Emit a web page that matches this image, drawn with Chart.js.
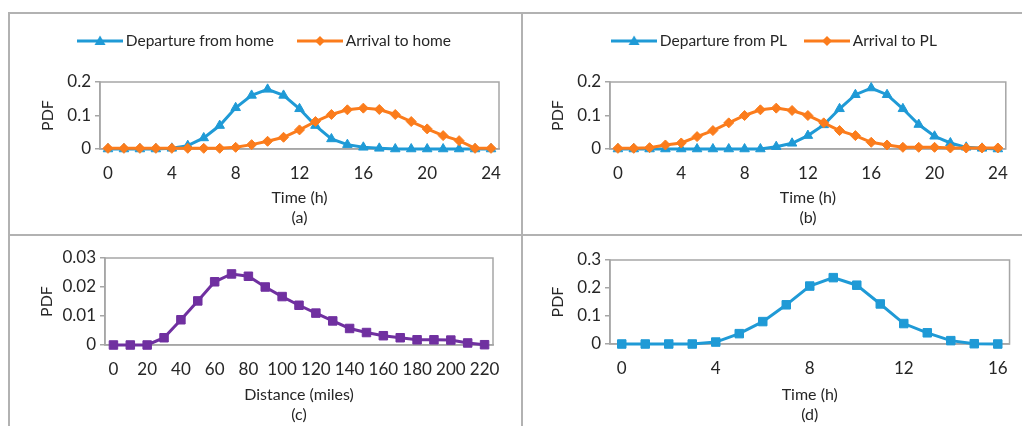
<!DOCTYPE html>
<html>
<head>
<meta charset="utf-8">
<script src="https://cdn.jsdelivr.net/npm/chart.js@4.4.1/dist/chart.umd.min.js"></script>
<style>
  html, body { margin: 0; padding: 0; background: #fff; }
  body { width: 1022px; height: 426px; position: relative; overflow: hidden; }
  .box { position: absolute; }
  .box canvas { display: block; }
  .frame { position: absolute; background: #b2b2b2; z-index: 2; }
</style>
</head>
<body>
<div class="box" style="left:10px;top:0"><canvas id="chartA" width="511" height="234"></canvas></div>
<div class="box" style="left:523px;top:0"><canvas id="chartB" width="499" height="234"></canvas></div>
<div class="box" style="left:10px;top:236px"><canvas id="chartC" width="511" height="200"></canvas></div>
<div class="box" style="left:523px;top:236px"><canvas id="chartD" width="499" height="200"></canvas></div>

<div class="frame" style="left:8px;top:12px;width:1014px;height:2px"></div>
<div class="frame" style="left:8px;top:12px;width:2px;height:414px"></div>
<div class="frame" style="left:521px;top:12px;width:2px;height:414px"></div>
<div class="frame" style="left:8px;top:234px;width:1014px;height:2px"></div>

<script>
// categories
const hours = ['0','1','2','3','4','5','6','7','8','9','10','11','12','13','14','15','16','17','18','19','20','21','22','23','24'];
const miles = ['0','10','20','30','40','50','60','70','80','90','100','110','120','130','140','150','160','170','180','190','200','210','220'];
const durHours = ['0','1','2','3','4','5','6','7','8','9','10','11','12','13','14','15','16'];

// tick labels that are shown
const timeTicks = ['0','4','8','12','16','20','24'];
const distTicks = ['0','20','40','60','80','100','120','140','160','180','200','220'];
const durTicks = ['0','4','8','12','16'];

// (a) home
const depHome = [0, 0, 0, 0, 0.002, 0.01, 0.033, 0.07, 0.123, 0.16, 0.178, 0.16, 0.12, 0.07, 0.03, 0.013, 0.005, 0.002, 0, 0, 0, 0, 0, 0, 0];
const arrHome = [0.002, 0.002, 0.002, 0.002, 0.002, 0.002, 0.002, 0.002, 0.005, 0.013, 0.023, 0.035, 0.057, 0.082, 0.103, 0.117, 0.122, 0.118, 0.103, 0.082, 0.06, 0.04, 0.025, 0.002, 0.002];

// (b) PL
const depPL = [0, 0, 0, 0, 0, 0, 0, 0, 0, 0, 0.007, 0.017, 0.04, 0.072, 0.12, 0.162, 0.182, 0.162, 0.12, 0.073, 0.038, 0.018, 0.005, 0.002, 0];
const arrPL = [0.002, 0.002, 0.004, 0.012, 0.018, 0.037, 0.055, 0.078, 0.1, 0.117, 0.122, 0.115, 0.1, 0.078, 0.055, 0.04, 0.02, 0.012, 0.005, 0.005, 0.005, 0.003, 0.003, 0.003, 0.003];

// (c) distance
const distPdf = [0, 0, 0, 0.0025, 0.0087, 0.0152, 0.0218, 0.0245, 0.0237, 0.02, 0.0167, 0.0137, 0.011, 0.0083, 0.0057, 0.0043, 0.0032, 0.0025, 0.0018, 0.0018, 0.0017, 0.0007, 0.0001];

// (d) duration
const durPdf = [0, 0, 0, 0, 0.007, 0.037, 0.08, 0.14, 0.207, 0.237, 0.21, 0.143, 0.073, 0.04, 0.012, 0.001, 0];

const BLUE = '#1f9ad6';
const ORANGE = '#fb7c1c';
const PURPLE = '#7030a0';
const GREY = '#a6a6a6';
const TEXT = '#262626';

Chart.defaults.font.family = 'Lato';
Chart.defaults.font.size = 17;
Chart.defaults.color = TEXT;

function legendIcon(color, shape) {
  const c = document.createElement('canvas');
  c.width = 46; c.height = 14;
  const g = c.getContext('2d');
  g.strokeStyle = color;
  g.lineWidth = 3;
  g.beginPath(); g.moveTo(0, 7); g.lineTo(46, 7); g.stroke();
  g.fillStyle = color;
  g.beginPath();
  if (shape === 'triangle') {
    g.moveTo(23, 1.5); g.lineTo(28.5, 11); g.lineTo(17.5, 11);
  } else {
    g.moveTo(23, 2); g.lineTo(28, 7); g.lineTo(23, 12); g.lineTo(18, 7);
  }
  g.closePath();
  g.fill();
  return c;
}

// frame around the plot area, like the excel plot border
const plotFrame = {
  id: 'plotFrame',
  beforeDatasetsDraw(chart) {
    const { ctx, chartArea: a } = chart;
    ctx.save();
    ctx.strokeStyle = GREY;
    ctx.lineWidth = 1.5;
    ctx.strokeRect(a.left, a.top, a.width, a.height);
    ctx.restore();
  }
};

function series(label, data, color, style, radius, order) {
  return {
    label: label,
    data: data,
    borderColor: color,
    backgroundColor: color,
    borderWidth: 3,
    pointStyle: style,
    pointRadius: radius,
    pointHoverRadius: radius,
    pointBackgroundColor: color,
    pointBorderColor: color,
    pointBorderWidth: 1,
    tension: 0,
    clip: false,
    order: order,
    legendIcon: legendIcon(color, style === 'triangle' ? 'triangle' : 'diamond')
  };
}

function panel(id, o) {
  const plugins = [plotFrame];
  if (o.legend) {
    plugins.push({
      id: 'legendGap',
      beforeInit(chart) {
        const fit = chart.legend.fit;
        chart.legend.fit = function () {
          fit.call(this);
          this.height += o.legendGap;
        };
      }
    });
  }

  new Chart(document.getElementById(id), {
    type: 'line',
    data: { labels: o.labels, datasets: o.datasets },
    plugins: plugins,
    options: {
      responsive: false,
      animation: false,
      events: [],
      layout: { padding: o.pad },
      plugins: {
        tooltip: { enabled: false },
        legend: {
          display: !!o.legend,
          position: 'top',
          labels: {
            usePointStyle: true,
            pointStyleWidth: 36,
            padding: o.legendPad || 10,
            color: TEXT,
            font: { size: 15.5 },
            sort: (a, b) => a.datasetIndex - b.datasetIndex,
            generateLabels(chart) {
              const items = Chart.defaults.plugins.legend.labels.generateLabels(chart);
              items.forEach(it => { it.pointStyle = chart.data.datasets[it.datasetIndex].legendIcon; });
              return items;
            }
          }
        }
      },
      scales: {
        x: {
          type: 'category',
          offset: true,
          grid: { display: false, drawTicks: false },
          border: { display: true, color: GREY, width: 1.5 },
          ticks: {
            autoSkip: false,
            maxRotation: 0,
            padding: 14,
            font: { size: 17 },
            callback(value) {
              const lab = this.getLabelForValue(value);
              return o.shown.includes(lab) ? lab : '';
            }
          },
          title: {
            display: true,
            text: [o.xTitle, o.tag],
            font: { size: 16, lineHeight: 1.25 },
            padding: { top: 0, bottom: 6 }
          },
          afterFit(scale) { scale.height = o.xHeight; }
        },
        y: {
          min: 0,
          max: o.yMax,
          ticks: { stepSize: o.yStep, padding: 4, font: { size: 17 } },
          grid: { drawOnChartArea: false, drawTicks: true, tickLength: 5, color: GREY, lineWidth: 1.5 },
          border: { display: true, color: GREY, width: 1.5 },
          title: {
            display: true,
            text: 'PDF',
            font: { size: 16, lineHeight: 1.25 },
            padding: { top: 4, bottom: 0 }
          },
          afterFit(scale) { scale.width = o.yWidth; }
        }
      }
    }
  });
}

panel('chartA', {
  labels: hours,
  shown: timeTicks,
  datasets: [
    series('Departure from home', depHome, BLUE, 'triangle', 5.5, 1),
    series('Arrival to home', arrHome, ORANGE, 'rectRot', 5, 0)
  ],
  legend: true, legendPad: 28, legendGap: 23.25,
  pad: { top: 5.25, left: 24, right: 22, bottom: 0 },
  yWidth: 66, xHeight: 85,
  yMax: 0.2, yStep: 0.1,
  xTitle: 'Time (h)', tag: '(a)'
});

panel('chartB', {
  labels: hours,
  shown: timeTicks,
  datasets: [
    series('Departure from PL', depPL, BLUE, 'triangle', 5.5, 1),
    series('Arrival to PL', arrPL, ORANGE, 'rectRot', 5, 0)
  ],
  legend: true, legendPad: 22, legendGap: 23.25,
  pad: { top: 11.25, left: 21, right: 13, bottom: 0 },
  yWidth: 66, xHeight: 85,
  yMax: 0.2, yStep: 0.1,
  xTitle: 'Time (h)', tag: '(b)'
});

panel('chartC', {
  labels: miles,
  shown: distTicks,
  datasets: [series('Distance', distPdf, PURPLE, 'rect', 6, 0)],
  legend: false,
  pad: { top: 22, left: 23, right: 28, bottom: 5 },
  yWidth: 72, xHeight: 86,
  yMax: 0.03, yStep: 0.01,
  xTitle: 'Distance (miles)', tag: '(c)'
});

panel('chartD', {
  labels: durHours,
  shown: durTicks,
  datasets: [series('Duration', durPdf, BLUE, 'rect', 6, 0)],
  legend: false,
  pad: { top: 24, left: 21, right: 12, bottom: 5 },
  yWidth: 66, xHeight: 87,
  yMax: 0.3, yStep: 0.1,
  xTitle: 'Time (h)', tag: '(d)'
});
</script>
</body>
</html>
